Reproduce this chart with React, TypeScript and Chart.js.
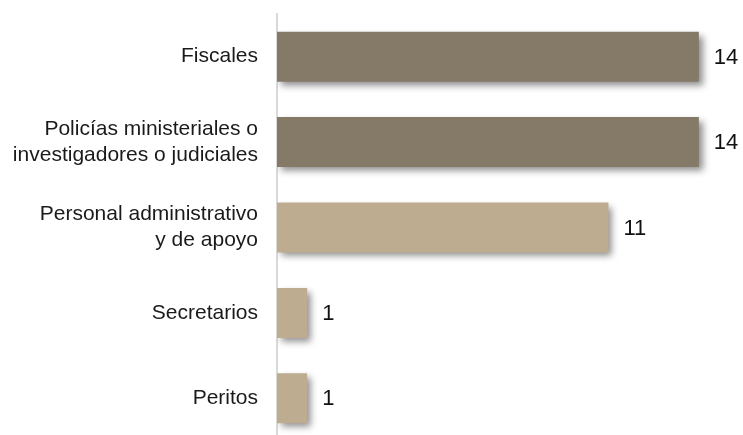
import React, { useEffect, useRef } from "react";
import { Chart, registerables } from "chart.js";

Chart.register(...registerables);

const categories: (string | string[])[] = [
  "Fiscales",
  ["Policías ministeriales o", "investigadores o judiciales"],
  ["Personal administrativo", "y de apoyo"],
  "Secretarios",
  "Peritos",
];
const values: number[] = [14, 14, 11, 1, 1];
const DARK = "#857968";
const LIGHT = "#bdac90";
const barColors: string[] = [DARK, DARK, LIGHT, LIGHT, LIGHT];

const shadowPlugin = {
  id: "barShadow",
  beforeDatasetsDraw(chart: any) {
    const ctx = chart.ctx;
    ctx.save();
    ctx.shadowColor = "rgba(0,0,0,0.45)";
    ctx.shadowBlur = 7;
    ctx.shadowOffsetX = 4;
    ctx.shadowOffsetY = 4;
  },
  afterDatasetsDraw(chart: any) {
    chart.ctx.restore();
    const ctx = chart.ctx;
    const meta = chart.getDatasetMeta(0);
    ctx.save();
    ctx.fillStyle = "#111";
    ctx.font = "22px 'Liberation Sans', Arial, sans-serif";
    ctx.textAlign = "left";
    ctx.textBaseline = "middle";
    meta.data.forEach((bar: any, i: number) => {
      ctx.fillText(String(values[i]), bar.x + 15, bar.y + 1);
    });
    ctx.restore();
  },
};

export default function App() {
  const ref = useRef<HTMLCanvasElement>(null);
  useEffect(() => {
    if (!ref.current) return;
    const chart = new Chart(ref.current, {
      type: "bar",
      data: {
        labels: categories,
        datasets: [
          {
            data: values,
            backgroundColor: barColors,
            borderWidth: 0,
            categoryPercentage: 1,
            barPercentage: 0.585,
          },
        ],
      },
      options: {
        indexAxis: "y",
        animation: false,
        responsive: false,
        layout: { padding: { top: 14, bottom: 1, left: 0, right: 14 } },
        plugins: { legend: { display: false }, tooltip: { enabled: false } },
        scales: {
          x: {
            min: 0,
            max: 15,
            display: false,
            grid: { display: false },
          },
          y: {
            grid: { display: false, drawTicks: false },
            border: { display: true, color: "#d9d9d9", width: 2 },
            ticks: {
              color: "#1a1a1a",
              padding: 19,
              font: { size: 21, family: "'Liberation Sans', Arial, sans-serif", lineHeight: 1.22 },
            },
            afterFit(scale: any) {
              scale.width = 277;
              scale.paddingTop = 0;
              scale.paddingBottom = 0;
            },
          },
        },
      },
      plugins: [shadowPlugin],
    } as any);
    return () => chart.destroy();
  }, []);
  return (
    <div
      style={{
        position: "fixed",
        left: 0,
        top: 0,
        width: 743,
        height: 435,
        overflow: "hidden",
        background: "#fff",
      }}
    >
      <canvas ref={ref} width={743} height={442} style={{ display: "block" }} />
    </div>
  );
}
